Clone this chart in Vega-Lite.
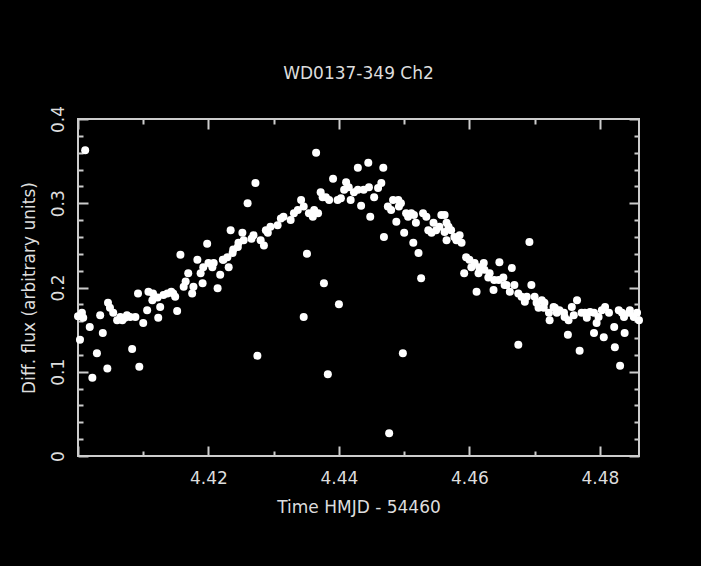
{
  "$schema": "https://vega.github.io/schema/vega-lite/v6.json",
  "width": 561,
  "height": 337,
  "autosize": {"type": "none"},
  "padding": {"left": 78, "top": 119, "right": 62, "bottom": 110},
  "background": "black",
  "title": {
    "text": "WD0137-349 Ch2",
    "color": "#dddddd",
    "font": "DejaVu Sans",
    "fontSize": 17,
    "fontWeight": "normal",
    "offset": 22
  },
  "config": {
    "view": {"stroke": "#cccccc", "strokeWidth": 2},
    "axis": {
      "domain": false,
      "grid": false,
      "labelFont": "DejaVu Sans",
      "labelFontSize": 17,
      "labelColor": "#dddddd",
      "titleFont": "DejaVu Sans",
      "titleFontSize": 17,
      "titleFontWeight": "normal",
      "titleColor": "#dddddd",
      "tickColor": "#cccccc",
      "tickWidth": 2
    }
  },
  "data": {
    "values": [
      {"t": 4.4011, "f": 0.363}, {"t": 4.4000, "f": 0.166}, {"t": 4.4008, "f": 0.164}, {"t": 4.4018, "f": 0.153},
      {"t": 4.4003, "f": 0.138}, {"t": 4.4022, "f": 0.093}, {"t": 4.4029, "f": 0.122}, {"t": 4.4038, "f": 0.146},
      {"t": 4.4045, "f": 0.104}, {"t": 4.4034, "f": 0.167}, {"t": 4.4046, "f": 0.182}, {"t": 4.4054, "f": 0.170},
      {"t": 4.4060, "f": 0.161}, {"t": 4.4065, "f": 0.165}, {"t": 4.4072, "f": 0.164}, {"t": 4.4080, "f": 0.165},
      {"t": 4.4088, "f": 0.165}, {"t": 4.4100, "f": 0.158}, {"t": 4.4083, "f": 0.127}, {"t": 4.4094, "f": 0.106},
      {"t": 4.4092, "f": 0.193}, {"t": 4.4108, "f": 0.195}, {"t": 4.4106, "f": 0.173}, {"t": 4.4114, "f": 0.185},
      {"t": 4.4122, "f": 0.188}, {"t": 4.4123, "f": 0.164}, {"t": 4.4131, "f": 0.191}, {"t": 4.4137, "f": 0.193},
      {"t": 4.4143, "f": 0.195}, {"t": 4.4149, "f": 0.189}, {"t": 4.4152, "f": 0.172}, {"t": 4.4157, "f": 0.239},
      {"t": 4.4162, "f": 0.201}, {"t": 4.4169, "f": 0.217}, {"t": 4.4175, "f": 0.193}, {"t": 4.4177, "f": 0.201},
      {"t": 4.4183, "f": 0.233}, {"t": 4.4191, "f": 0.205}, {"t": 4.4198, "f": 0.252}, {"t": 4.4192, "f": 0.224},
      {"t": 4.4200, "f": 0.229}, {"t": 4.4208, "f": 0.229}, {"t": 4.4214, "f": 0.199}, {"t": 4.4218, "f": 0.215},
      {"t": 4.4222, "f": 0.233}, {"t": 4.4229, "f": 0.236}, {"t": 4.4234, "f": 0.268}, {"t": 4.4231, "f": 0.224},
      {"t": 4.4238, "f": 0.245}, {"t": 4.4246, "f": 0.253}, {"t": 4.4252, "f": 0.265}, {"t": 4.4260, "f": 0.300},
      {"t": 4.4272, "f": 0.324}, {"t": 4.4269, "f": 0.262}, {"t": 4.4275, "f": 0.119}, {"t": 4.4365, "f": 0.360},
      {"t": 4.4266, "f": 0.258}, {"t": 4.4280, "f": 0.256}, {"t": 4.4285, "f": 0.250}, {"t": 4.4291, "f": 0.265},
      {"t": 4.4295, "f": 0.272}, {"t": 4.4306, "f": 0.274}, {"t": 4.4315, "f": 0.284}, {"t": 4.4326, "f": 0.280},
      {"t": 4.4337, "f": 0.292}, {"t": 4.4342, "f": 0.304}, {"t": 4.4346, "f": 0.296}, {"t": 4.4354, "f": 0.288},
      {"t": 4.4360, "f": 0.284}, {"t": 4.4368, "f": 0.288}, {"t": 4.4372, "f": 0.313}, {"t": 4.4380, "f": 0.307},
      {"t": 4.4391, "f": 0.329}, {"t": 4.4398, "f": 0.304}, {"t": 4.4403, "f": 0.306}, {"t": 4.4411, "f": 0.325},
      {"t": 4.4415, "f": 0.319}, {"t": 4.4418, "f": 0.304}, {"t": 4.4429, "f": 0.316}, {"t": 4.4429, "f": 0.342},
      {"t": 4.4434, "f": 0.297}, {"t": 4.4438, "f": 0.316}, {"t": 4.4445, "f": 0.348}, {"t": 4.4446, "f": 0.319},
      {"t": 4.4448, "f": 0.284}, {"t": 4.4454, "f": 0.307}, {"t": 4.4460, "f": 0.318}, {"t": 4.4465, "f": 0.324},
      {"t": 4.4468, "f": 0.342}, {"t": 4.4469, "f": 0.260}, {"t": 4.4475, "f": 0.296}, {"t": 4.4480, "f": 0.292},
      {"t": 4.4488, "f": 0.278}, {"t": 4.4491, "f": 0.304}, {"t": 4.4495, "f": 0.300}, {"t": 4.4500, "f": 0.265},
      {"t": 4.4503, "f": 0.288}, {"t": 4.4511, "f": 0.288}, {"t": 4.4514, "f": 0.253}, {"t": 4.4518, "f": 0.277},
      {"t": 4.4522, "f": 0.241}, {"t": 4.4526, "f": 0.211}, {"t": 4.4529, "f": 0.288}, {"t": 4.4537, "f": 0.268},
      {"t": 4.4542, "f": 0.265}, {"t": 4.4549, "f": 0.268}, {"t": 4.4557, "f": 0.286}, {"t": 4.4565, "f": 0.256},
      {"t": 4.4351, "f": 0.240}, {"t": 4.4377, "f": 0.205}, {"t": 4.4400, "f": 0.180}, {"t": 4.4346, "f": 0.165},
      {"t": 4.4383, "f": 0.097}, {"t": 4.4498, "f": 0.122}, {"t": 4.4477, "f": 0.027},
      {"t": 4.4562, "f": 0.286}, {"t": 4.4565, "f": 0.277}, {"t": 4.4572, "f": 0.268}, {"t": 4.4577, "f": 0.260},
      {"t": 4.4585, "f": 0.262}, {"t": 4.4588, "f": 0.253}, {"t": 4.4595, "f": 0.236}, {"t": 4.4600, "f": 0.233},
      {"t": 4.4592, "f": 0.217}, {"t": 4.4603, "f": 0.224}, {"t": 4.4611, "f": 0.195}, {"t": 4.4614, "f": 0.217},
      {"t": 4.4622, "f": 0.229}, {"t": 4.4623, "f": 0.221}, {"t": 4.4629, "f": 0.212}, {"t": 4.4637, "f": 0.197},
      {"t": 4.4638, "f": 0.209}, {"t": 4.4646, "f": 0.230}, {"t": 4.4652, "f": 0.212}, {"t": 4.4657, "f": 0.203},
      {"t": 4.4665, "f": 0.223}, {"t": 4.4662, "f": 0.195}, {"t": 4.4669, "f": 0.203}, {"t": 4.4675, "f": 0.132},
      {"t": 4.4680, "f": 0.189}, {"t": 4.4685, "f": 0.183}, {"t": 4.4692, "f": 0.254}, {"t": 4.4695, "f": 0.203},
      {"t": 4.4700, "f": 0.189}, {"t": 4.4706, "f": 0.176}, {"t": 4.4711, "f": 0.185}, {"t": 4.4715, "f": 0.182},
      {"t": 4.4722, "f": 0.170}, {"t": 4.4723, "f": 0.161}, {"t": 4.4729, "f": 0.177}, {"t": 4.4734, "f": 0.170},
      {"t": 4.4738, "f": 0.173}, {"t": 4.4746, "f": 0.165}, {"t": 4.4752, "f": 0.161}, {"t": 4.4751, "f": 0.144},
      {"t": 4.4757, "f": 0.177}, {"t": 4.4765, "f": 0.185}, {"t": 4.4769, "f": 0.125}, {"t": 4.4772, "f": 0.170},
      {"t": 4.4780, "f": 0.164}, {"t": 4.4785, "f": 0.171}, {"t": 4.4791, "f": 0.146}, {"t": 4.4795, "f": 0.158},
      {"t": 4.4798, "f": 0.165}, {"t": 4.4806, "f": 0.141}, {"t": 4.4808, "f": 0.177}, {"t": 4.4814, "f": 0.170},
      {"t": 4.4822, "f": 0.153}, {"t": 4.4823, "f": 0.129}, {"t": 4.4829, "f": 0.173}, {"t": 4.4831, "f": 0.107},
      {"t": 4.4837, "f": 0.165}, {"t": 4.4838, "f": 0.146}, {"t": 4.4845, "f": 0.170}, {"t": 4.4852, "f": 0.165},
      {"t": 4.4860, "f": 0.161},
      {"t": 4.4006, "f": 0.170}, {"t": 4.4049, "f": 0.176}, {"t": 4.4068, "f": 0.161}, {"t": 4.4075, "f": 0.167},
      {"t": 4.4115, "f": 0.193}, {"t": 4.4126, "f": 0.177}, {"t": 4.4146, "f": 0.193}, {"t": 4.4165, "f": 0.207},
      {"t": 4.4188, "f": 0.217}, {"t": 4.4206, "f": 0.224}, {"t": 4.4223, "f": 0.233}, {"t": 4.4237, "f": 0.241},
      {"t": 4.4245, "f": 0.248}, {"t": 4.4254, "f": 0.256},
      {"t": 4.4288, "f": 0.268}, {"t": 4.4311, "f": 0.282}, {"t": 4.4331, "f": 0.288}, {"t": 4.4362, "f": 0.292},
      {"t": 4.4375, "f": 0.307}, {"t": 4.4385, "f": 0.304}, {"t": 4.4408, "f": 0.316}, {"t": 4.4423, "f": 0.313},
      {"t": 4.4483, "f": 0.304}, {"t": 4.4492, "f": 0.296}, {"t": 4.4506, "f": 0.284}, {"t": 4.4515, "f": 0.286},
      {"t": 4.4534, "f": 0.284}, {"t": 4.4545, "f": 0.277}, {"t": 4.4554, "f": 0.272}, {"t": 4.4562, "f": 0.266},
      {"t": 4.4568, "f": 0.272}, {"t": 4.4580, "f": 0.256}, {"t": 4.4608, "f": 0.229}, {"t": 4.4615, "f": 0.224},
      {"t": 4.4631, "f": 0.217}, {"t": 4.4645, "f": 0.209}, {"t": 4.4654, "f": 0.203}, {"t": 4.4675, "f": 0.193},
      {"t": 4.4688, "f": 0.189}, {"t": 4.4703, "f": 0.182}, {"t": 4.4714, "f": 0.176}, {"t": 4.4731, "f": 0.176},
      {"t": 4.4745, "f": 0.170}, {"t": 4.4760, "f": 0.167}, {"t": 4.4777, "f": 0.170}, {"t": 4.4791, "f": 0.170},
      {"t": 4.4803, "f": 0.173}, {"t": 4.4834, "f": 0.170}, {"t": 4.4846, "f": 0.173}, {"t": 4.4857, "f": 0.170}
    ]
  },
  "layer": [
    {
      "mark": {"type": "circle", "size": 64, "color": "white", "opacity": 1},
      "encoding": {
        "x": {
          "field": "t", "type": "quantitative",
          "scale": {"domain": [4.4, 4.486], "nice": false, "zero": false},
          "axis": {
            "orient": "bottom", "ticks": false, "labelPadding": 14, "titlePadding": 13,
            "values": [4.42, 4.44, 4.46, 4.48], "format": ".2f",
            "title": "Time HMJD - 54460"
          }
        },
        "y": {
          "field": "f", "type": "quantitative",
          "scale": {"domain": [0, 0.4], "nice": false},
          "axis": {
            "orient": "left", "ticks": false, "labelPadding": 11, "titlePadding": 11,
            "labelAngle": -90, "values": [0, 0.1, 0.2, 0.3, 0.4], "format": ".1~f",
            "title": "Diff. flux (arbitrary units)"
          }
        }
      }
    },
    {
      "mark": {"type": "circle", "opacity": 0},
      "encoding": {
        "x": {"field": "t", "type": "quantitative", "axis": {"orient": "bottom", "labels": false, "title": null, "tickSize": -10, "values": [4.40, 4.42, 4.44, 4.46, 4.48]}},
        "y": {"field": "f", "type": "quantitative", "axis": {"orient": "left", "labels": false, "title": null, "tickSize": -10, "values": [0, 0.1, 0.2, 0.3, 0.4]}}
      }
    },
    {
      "mark": {"type": "circle", "opacity": 0},
      "encoding": {
        "x": {"field": "t", "type": "quantitative", "axis": {"orient": "top", "labels": false, "title": null, "tickSize": -10, "values": [4.40, 4.42, 4.44, 4.46, 4.48]}},
        "y": {"field": "f", "type": "quantitative", "axis": {"orient": "right", "labels": false, "title": null, "tickSize": -10, "values": [0, 0.1, 0.2, 0.3, 0.4]}}
      }
    },
    {
      "mark": {"type": "circle", "opacity": 0},
      "encoding": {
        "x": {"field": "t", "type": "quantitative", "axis": {"orient": "bottom", "labels": false, "title": null, "tickSize": -5, "values": [4.41, 4.43, 4.45, 4.47]}},
        "y": {"field": "f", "type": "quantitative", "axis": {"orient": "left", "labels": false, "title": null, "tickSize": -5, "values": [0.02, 0.04, 0.06, 0.08, 0.12, 0.14, 0.16, 0.18, 0.22, 0.24, 0.26, 0.28, 0.32, 0.34, 0.36, 0.38]}}
      }
    },
    {
      "mark": {"type": "circle", "opacity": 0},
      "encoding": {
        "x": {"field": "t", "type": "quantitative", "axis": {"orient": "top", "labels": false, "title": null, "tickSize": -5, "values": [4.41, 4.43, 4.45, 4.47]}},
        "y": {"field": "f", "type": "quantitative", "axis": {"orient": "right", "labels": false, "title": null, "tickSize": -5, "values": [0.02, 0.04, 0.06, 0.08, 0.12, 0.14, 0.16, 0.18, 0.22, 0.24, 0.26, 0.28, 0.32, 0.34, 0.36, 0.38]}}
      }
    }
  ],
  "resolve": {"axis": {"x": "independent", "y": "independent"}}
}
